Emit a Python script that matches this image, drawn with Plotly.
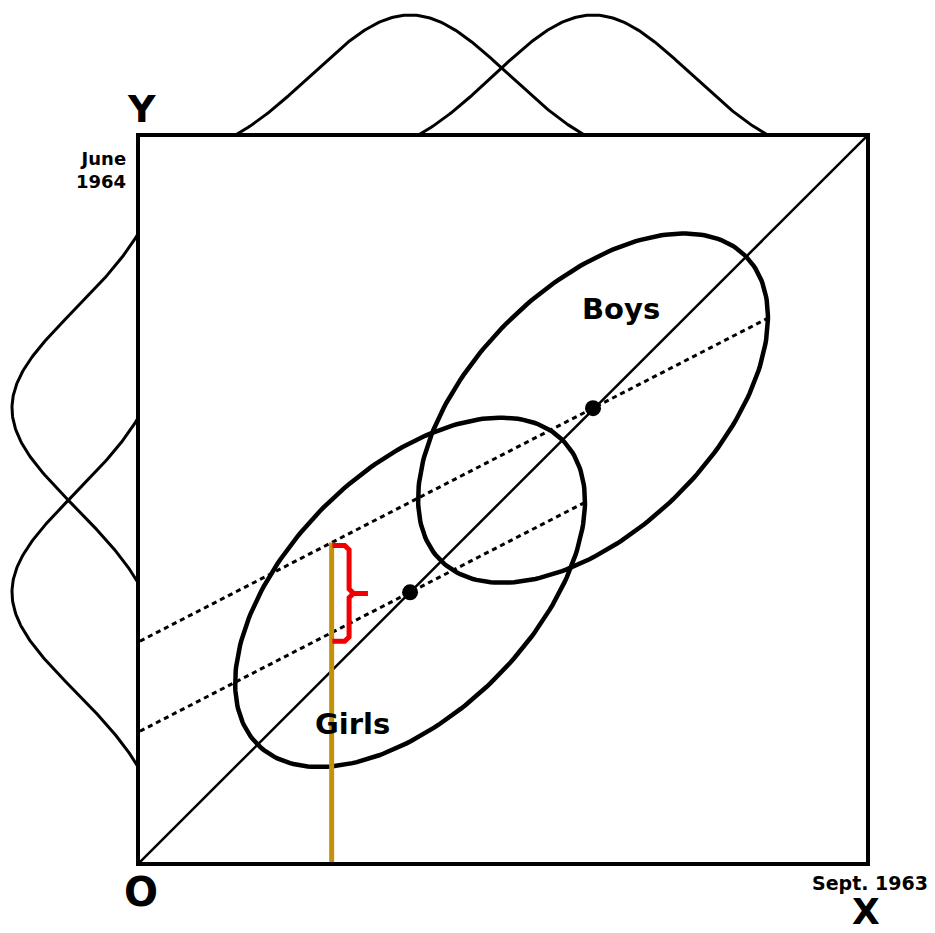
import numpy as np
import plotly.graph_objects as go

# 두 집단 (Girls, Boys) 의 평균과 분포 파라미터 (상자 안 좌표: 0~100)
groups = ["Girls", "Boys"]
mean_x = [37.2, 62.4]          # Sept. 1963 평균
mean_y = [37.2, 62.6]          # June 1964 평균
within_slope = [0.515, 0.515]  # 집단 내 회귀선 기울기
ellipse_major = [29.7, 29.7]   # 45도 방향 반장축
ellipse_minor = [16.7, 16.7]   # 반단축
dist_halfwidth = [24.5, 24.5]  # 주변분포 곡선 반폭
dist_trunc = [1.8, 1.8]        # 반폭 / 표준편차
marker_x = 26.4                # 노란 세로선 위치

# 페이지 body 기본 여백(8px)을 감안한 크기
OFF = 8
W, H = 935 - OFF, 933 - OFF
BOX_L, BOX_R, BOX_T, BOX_B = 140, 866, 137, 862


def px(x):
    return (x - OFF) / W


def py(y):
    return 1 - (y - OFF) / H


def density(center, half, trunc, n=200):
    sd = half / trunc
    t = np.linspace(-half, half, n)
    e_t = np.exp(-trunc ** 2 / 2)
    f = (np.exp(-t ** 2 / (2 * sd ** 2)) - e_t) / (1 - e_t)
    return center + t, f


def ellipse(cx, cy, a, b, n=240):
    th = np.linspace(0, 2 * np.pi, n)
    u, v = a * np.cos(th), b * np.sin(th)
    c = np.sqrt(0.5)
    return cx + c * (u - v), cy + c * (u + v)


def line_end(cx, s, a, b):
    # 회귀선이 타원 경계와 만나는 x
    k = (1 + s) ** 2 / (2 * a ** 2) + (s - 1) ** 2 / (2 * b ** 2)
    return cx + 1 / np.sqrt(k)


fig = go.Figure()
ink = "black"

# 1. 타원
for i, g in enumerate(groups):
    ex, ey = ellipse(mean_x[i], mean_y[i], ellipse_major[i], ellipse_minor[i])
    fig.add_trace(go.Scatter(x=ex, y=ey, mode="lines", line=dict(color=ink, width=4.5),
                             hoverinfo="skip", name=g))

# 2. 대각선 y = x
fig.add_trace(go.Scatter(x=[0, 100], y=[0, 100], mode="lines",
                         line=dict(color=ink, width=2.5), hoverinfo="skip"))

# 3. 집단 내 회귀선 (점선)
for i, g in enumerate(groups):
    x_end = line_end(mean_x[i], within_slope[i], ellipse_major[i], ellipse_minor[i])
    xs = np.array([0, x_end])
    ys = mean_y[i] + within_slope[i] * (xs - mean_x[i])
    fig.add_trace(go.Scatter(x=xs, y=ys, mode="lines",
                             line=dict(color=ink, width=3, dash="5px,4px"), hoverinfo="skip"))

# 4. 평균점
fig.add_trace(go.Scatter(x=mean_x, y=mean_y, mode="markers",
                         marker=dict(color=ink, size=16), hoverinfo="skip"))

# 5. 노란 세로선 + 빨간 괄호
y_hi = mean_y[1] + within_slope[1] * (marker_x - mean_x[1])
y_lo = mean_y[0] + within_slope[0] * (marker_x - mean_x[0])
fig.add_trace(go.Scatter(x=[marker_x, marker_x], y=[0, y_hi], mode="lines",
                         line=dict(color="#C4920A", width=5), hoverinfo="skip"))

ytop, ybot = y_hi - 0.4, y_lo - 1.2
ym = (ytop + ybot) / 2
xa, xs_, xt, r = marker_x + 0.1, marker_x + 2.4, marker_x + 5.0, 0.6
bx = [xa, xs_ - r, xs_, xs_, xs_ + r, xt, None, xs_ + r, xs_, xs_, xs_ - r, xa]
by = [ytop, ytop, ytop - r, ym + r, ym, ym, None, ym, ym - r, ybot + r, ybot, ybot]
fig.add_trace(go.Scatter(x=bx, y=by, mode="lines",
                         line=dict(color="#F00000", width=5), hoverinfo="skip"))

# 6. 주변분포 (위: X, 왼쪽: Y)
for i in range(len(groups)):
    t, f = density(mean_x[i], dist_halfwidth[i], dist_trunc[i])
    fig.add_trace(go.Scatter(x=t, y=f, xaxis="x2", yaxis="y2", mode="lines",
                             line=dict(color=ink, width=3), hoverinfo="skip"))
    t, f = density(mean_y[i], dist_halfwidth[i], dist_trunc[i])
    fig.add_trace(go.Scatter(x=f, y=t, xaxis="x3", yaxis="y3", mode="lines",
                             line=dict(color=ink, width=3), hoverinfo="skip"))

xdom = [px(BOX_L), px(BOX_R)]
ydom = [py(BOX_B), py(BOX_T)]
hidden = dict(visible=False, showgrid=False, zeroline=False)

fig.update_layout(
    width=W, height=H,
    margin=dict(l=0, r=0, t=0, b=0),
    paper_bgcolor="white", plot_bgcolor="rgba(0,0,0,0)",
    showlegend=False,
    xaxis=dict(domain=xdom, range=[0, 100], showline=True, mirror=True, linewidth=4,
               linecolor=ink, showgrid=False, zeroline=False, showticklabels=False, ticks=""),
    yaxis=dict(domain=ydom, range=[0, 100], showline=True, mirror=True, linewidth=4,
               linecolor=ink, showgrid=False, zeroline=False, showticklabels=False, ticks=""),
    xaxis2=dict(domain=xdom, range=[0, 100], anchor="y2", **hidden),
    yaxis2=dict(domain=[py(BOX_T), 1], range=[0, (BOX_T - OFF) / 122], anchor="x2", **hidden),
    xaxis3=dict(domain=[0, px(BOX_L)], range=[(BOX_L - OFF) / 128, 0], anchor="y3", **hidden),
    yaxis3=dict(domain=ydom, range=[0, 100], anchor="x3", **hidden),
)

font = "DejaVu Sans"
labels = [
    ("Y", 141, 109, 38, "center"),
    ("June<br>1964", 128, 170, 18, "right"),
    ("O", 141, 892, 40, "center"),
    ("Sept. 1963", 930, 883, 19, "right"),
    ("X", 866, 911, 36, "center"),
    ("Boys", 621, 309, 29, "center"),
    ("Girls", 352, 724, 29, "center"),
]
for text, x, y, size, anchor in labels:
    fig.add_annotation(text=f"<b>{text}</b>", x=px(x), y=py(y), xref="paper", yref="paper",
                       xanchor=anchor, yanchor="middle", align=anchor, showarrow=False,
                       font=dict(family=font, size=size, color=ink))

fig.write_html("out.html")
